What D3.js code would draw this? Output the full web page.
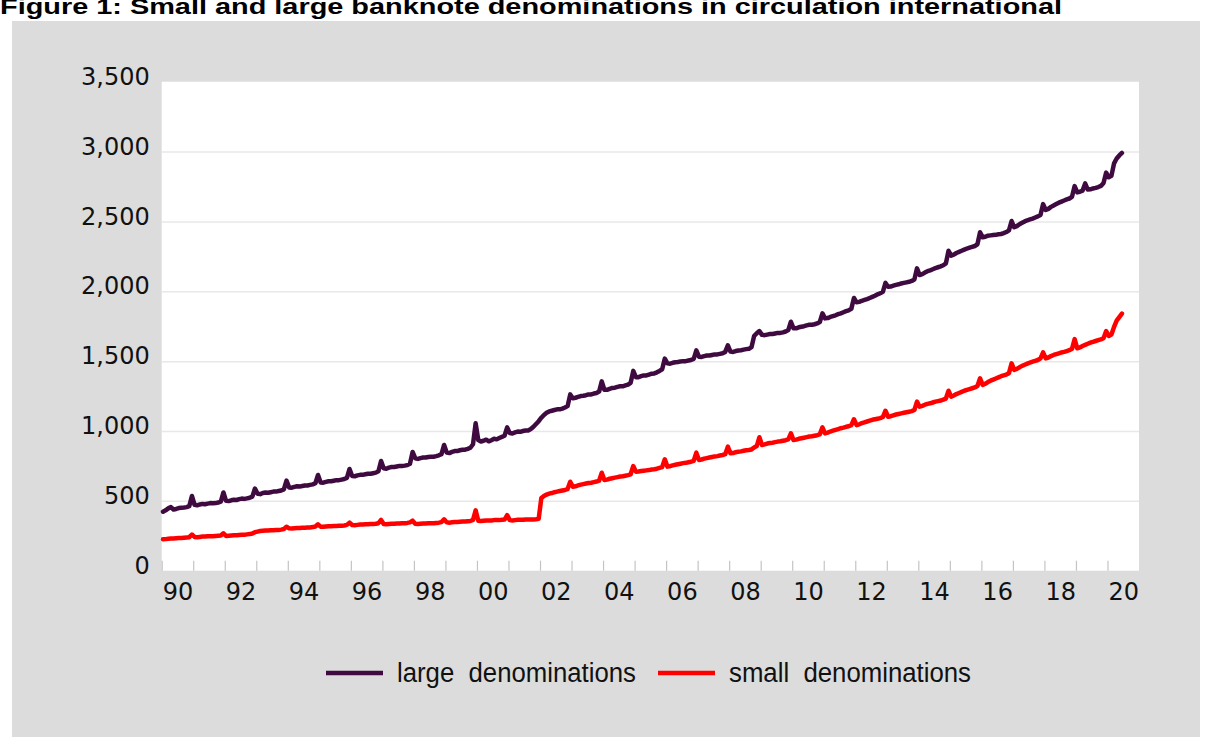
<!doctype html>
<html>
<head>
<meta charset="utf-8">
<script src="https://cdnjs.cloudflare.com/ajax/libs/d3/7.8.5/d3.min.js"></script>
<style>
  body { margin: 0; background: #ffffff; }
  svg { display: block; }
  .axis text { font-family: "DejaVu Sans", Verdana, sans-serif; font-size: 24px; fill: #111; }
  .legend text { font-family: "Liberation Sans", Arial, sans-serif; font-size: 27px; fill: #111; }
</style>
</head>
<body>
<script>
// monthly values, Jan 1990 .. Jun 2020
const startYear = 1990;
const large = [
  422,432,446,455,438,442,448,450,452,455,462,535,
  472,468,474,478,476,480,484,482,484,488,494,560,
  500,498,504,508,506,512,516,514,518,522,530,588,
  550,548,556,560,558,562,566,566,570,574,582,645,
  596,594,600,604,602,606,610,610,614,618,626,685,
  632,630,636,640,640,644,648,648,652,656,664,728,
  678,676,682,686,686,690,694,694,698,702,712,785,
  733,730,738,742,742,746,750,750,752,756,766,850,
  805,800,806,810,810,814,816,816,820,826,834,900,
  845,842,850,856,856,862,866,866,872,880,905,1055,
  935,925,930,938,926,934,944,940,950,958,966,1026,
  985,982,990,996,994,1000,1004,1004,1014,1030,1050,1070,
  1095,1115,1130,1140,1145,1150,1155,1155,1160,1168,1178,1262,
  1234,1238,1244,1250,1252,1256,1262,1262,1268,1272,1282,1355,
  1295,1295,1302,1308,1310,1316,1320,1320,1326,1332,1345,1430,
  1385,1385,1392,1398,1398,1404,1410,1412,1420,1430,1442,1518,
  1484,1482,1488,1492,1494,1498,1500,1500,1504,1508,1516,1577,
  1532,1530,1536,1540,1540,1544,1548,1548,1552,1556,1566,1613,
  1568,1566,1572,1576,1578,1582,1586,1588,1600,1680,1700,1715,
  1688,1686,1690,1694,1694,1698,1702,1702,1706,1712,1722,1782,
  1735,1735,1742,1746,1750,1756,1760,1760,1764,1770,1780,1842,
  1806,1808,1816,1822,1828,1836,1842,1850,1858,1864,1874,1952,
  1921,1924,1932,1938,1944,1952,1960,1968,1978,1986,1996,2060,
  2032,2034,2040,2046,2050,2056,2060,2064,2068,2074,2084,2164,
  2116,2122,2134,2144,2150,2158,2166,2172,2178,2186,2200,2290,
  2255,2262,2274,2282,2290,2298,2306,2312,2318,2324,2336,2422,
  2386,2390,2398,2400,2402,2404,2408,2410,2416,2424,2436,2503,
  2458,2466,2480,2490,2500,2508,2514,2520,2528,2536,2546,2624,
  2582,2590,2604,2614,2624,2634,2642,2650,2658,2664,2676,2753,
  2708,2712,2720,2772,2728,2730,2736,2740,2746,2754,2775,2849,
  2816,2826,2915,2950,2972,2990
];
const small = [
  225,226,228,230,230,232,234,234,236,238,240,259,
  242,240,242,244,244,246,246,246,248,250,252,268,
  248,250,252,254,254,256,258,258,260,262,266,276,
  280,284,286,288,288,290,290,292,292,294,298,315,
  303,302,304,306,306,308,308,310,310,312,316,332,
  315,314,316,318,318,320,320,322,322,324,328,344,
  327,326,328,330,330,332,332,334,334,336,340,363,
  334,332,334,336,336,338,338,340,340,342,346,358,
  336,334,336,338,338,340,340,340,342,344,348,368,
  346,344,346,348,348,350,352,352,354,356,364,432,
  358,356,358,360,360,360,362,362,362,364,366,398,
  362,360,362,364,364,364,366,366,366,366,368,372,
  520,535,545,552,556,562,566,570,574,578,584,637,
  601,604,610,616,620,624,628,630,634,638,644,701,
  649,652,658,662,666,670,674,676,680,684,690,749,
  709,710,714,716,718,720,724,726,730,736,742,797,
  745,748,754,758,762,766,770,772,776,780,786,845,
  793,796,802,806,810,814,818,820,824,828,834,888,
  840,842,848,852,854,858,862,864,868,882,892,955,
  900,904,910,914,916,920,924,926,930,934,940,983,
  935,938,944,948,952,956,960,962,966,970,976,1026,
  983,988,996,1002,1008,1014,1020,1024,1030,1034,1042,1084,
  1042,1048,1056,1062,1068,1074,1080,1084,1088,1092,1100,1145,
  1102,1106,1112,1118,1122,1126,1130,1134,1138,1142,1150,1210,
  1174,1180,1188,1194,1198,1204,1210,1214,1218,1224,1232,1288,
  1246,1254,1264,1272,1280,1288,1294,1300,1306,1312,1322,1377,
  1330,1338,1350,1360,1368,1376,1384,1392,1398,1404,1414,1484,
  1437,1444,1456,1466,1474,1482,1490,1496,1502,1508,1520,1563,
  1520,1526,1536,1544,1550,1556,1562,1566,1572,1578,1588,1658,
  1592,1598,1608,1616,1624,1632,1638,1644,1650,1656,1664,1715,
  1680,1690,1745,1790,1815,1840
];
const yTicks = [0, 500, 1000, 1500, 2000, 2500, 3000, 3500];
const xLabelYears = d3.range(1990, 2021, 2);
const seriesNames = ["large denominations", "small denominations"];
const seriesColors = ["#3f0a3f", "#ff0000"];

const W = 1206, H = 742;
const svg = d3.select("body").append("svg").attr("width", W).attr("height", H);

// title (cut at the top edge in the original)
svg.append("text")
  .attr("x", 0).attr("y", 14)
  .attr("font-family", "Liberation Sans, Arial, sans-serif")
  .attr("font-weight", "bold").attr("font-size", 22)
  .attr("textLength", 1062).attr("lengthAdjust", "spacingAndGlyphs")
  .text("Figure 1: Small and large banknote denominations in circulation international");

// gray panel
svg.append("rect").attr("x", 12).attr("y", 21).attr("width", 1188).attr("height", 716).attr("fill", "#dcdcdc");

const pL = 161.7, pR = 1139, pT = 81.7, pB = 570.7;
svg.append("rect").attr("x", pL).attr("y", pT).attr("width", pR - pL).attr("height", pB - pT).attr("fill", "#fff");

const x = d3.scaleLinear().domain([1990, 2021]).range([pL, pR]);
const y = d3.scaleLinear().domain([0, 3500]).range([pB, pT]);

// gridlines + y labels
const yAxis = svg.append("g").attr("class", "axis")
  .attr("transform", `translate(${pL},0)`)
  .call(d3.axisLeft(y).tickValues(yTicks).tickSize(-(pR - pL)).tickPadding(12).tickFormat(d3.format(",")));
yAxis.select(".domain").remove();
yAxis.selectAll(".tick line").attr("stroke", "#e8e8e8").attr("stroke-width", 1.5)
  .attr("display", d => (d === 0 || d === 3500) ? "none" : null);
yAxis.selectAll(".tick text").attr("y", -5);

// yearly tick marks inside
const xTicks = svg.append("g").attr("class", "axis")
  .attr("transform", `translate(0,${pB})`)
  .call(d3.axisBottom(x).tickValues(d3.range(1990, 2021)).tickSize(-10).tickFormat(""));
xTicks.select(".domain").remove();
xTicks.selectAll(".tick line").attr("stroke", "#c4c4c4").attr("stroke-width", 1.2);

// year labels centred in the year
const xLab = svg.append("g").attr("class", "axis")
  .attr("transform", `translate(0,${pB})`)
  .call(d3.axisBottom(x).tickValues(xLabelYears.map(v => v + 0.5)).tickSize(0).tickPadding(12)
    .tickFormat(v => String(Math.floor(v) % 100).padStart(2, "0")));
xLab.select(".domain").remove();

const line = d3.line()
  .x((d, i) => x(startYear + (i + 0.5) / 12))
  .y(d => y(d))
  .curve(d3.curveLinear);

[large, small].forEach((s, k) => {
  svg.append("path").datum(s)
    .attr("fill", "none")
    .attr("stroke", seriesColors[k])
    .attr("stroke-width", 4.5)
    .attr("stroke-linejoin", "round")
    .attr("stroke-linecap", "round")
    .attr("d", line);
});

// legend
const legend = svg.append("g").attr("class", "legend");
const legX = [326, 658];
const legW = [239, 242];
seriesNames.forEach((n, k) => {
  legend.append("line")
    .attr("x1", legX[k]).attr("x2", legX[k] + 57)
    .attr("y1", 673).attr("y2", 673)
    .attr("stroke", seriesColors[k]).attr("stroke-width", 4.5);
  legend.append("text")
    .attr("x", legX[k] + 71).attr("y", 682)
    .attr("xml:space", "preserve")
    .attr("textLength", legW[k]).attr("lengthAdjust", "spacingAndGlyphs")
    .text(n.replace(" ", "  "));
});
</script>
</body>
</html>
